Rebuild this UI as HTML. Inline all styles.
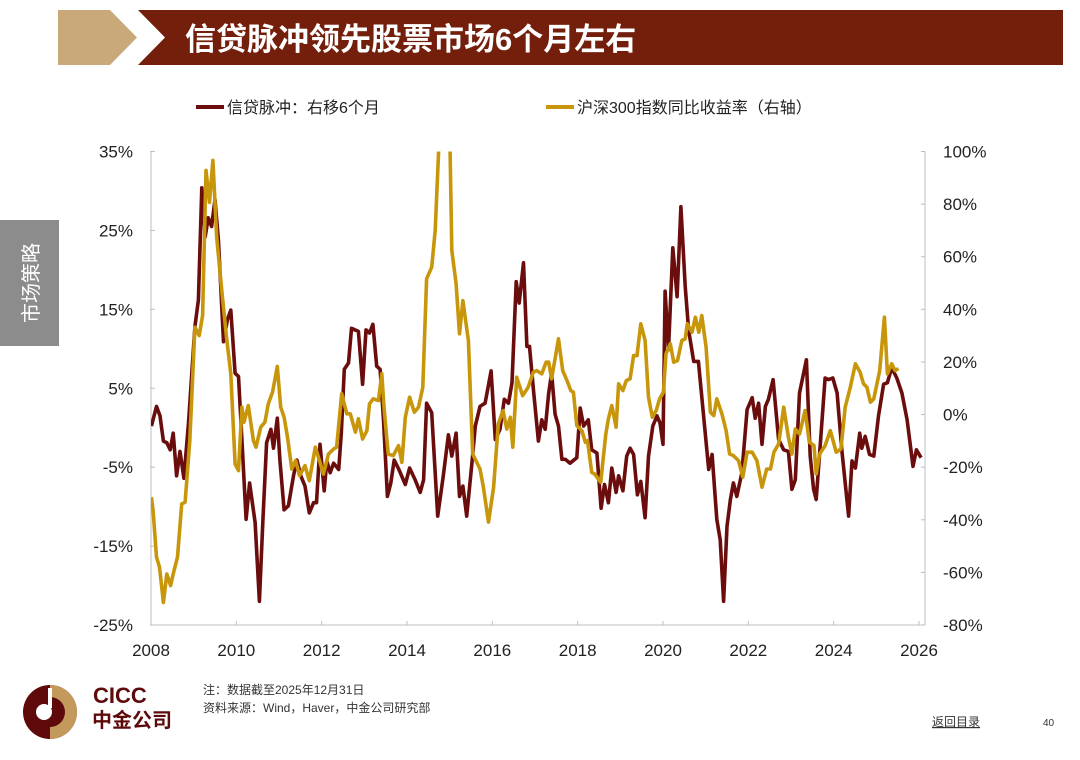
<!DOCTYPE html>
<html><head><meta charset="utf-8">
<style>
html,body{margin:0;padding:0;background:#fff;}
body{width:1080px;height:755px;position:relative;overflow:hidden;font-family:"Liberation Sans","Noto Sans CJK SC",sans-serif;}
svg text{font-family:"Liberation Sans","Noto Sans CJK SC",sans-serif;}
</style></head>
<body>
<svg width="1080" height="755" viewBox="0 0 1080 755" xmlns="http://www.w3.org/2000/svg">
  <g>
    <polygon points="58,10 110,10 137,37.5 110,65 58,65" fill="#c9a87a"/>
    <polygon points="138,10 1063,10 1063,65 138,65 165,37.5" fill="#731f0c"/>
    <text x="185" y="50" font-size="31" font-weight="bold" fill="#fff">信贷脉冲领先股票市场6个月左右</text>
  </g>
  <g>
    <rect x="0" y="220" width="59" height="126" fill="#8c8c8c"/>
    <text x="0" y="0" font-size="20" fill="#fff" transform="translate(38,283) rotate(-90)" text-anchor="middle">市场策略</text>
  </g>
  <g>
    <line x1="196" y1="107" x2="224" y2="107" stroke="#6b0d0d" stroke-width="4"/>
    <text x="227" y="113" font-size="16" fill="#222">信贷脉冲：右移6个月</text>
    <line x1="546" y1="107" x2="574" y2="107" stroke="#c8960a" stroke-width="4"/>
    <text x="577" y="113" font-size="16" fill="#222">沪深300指数同比收益率（右轴）</text>
  </g>
  <g id="axes"></g>
  <g id="plot"></g>
  <g>
    <g>
      <circle cx="50" cy="712" r="27" fill="#5e0a0a"/>
      <path d="M50,685 A27,27 0 0 1 50,739 L50,727 A15,15 0 0 0 50,697 Z" fill="#c49a5c"/>
      <circle cx="44" cy="712" r="8" fill="#fff"/>
      <rect x="48" y="688" width="4" height="20" fill="#fff"/>
      <text x="93" y="703" font-size="22" font-weight="bold" fill="#5e0a0a">CICC</text>
      <text x="92" y="727" font-size="20" font-weight="bold" fill="#5e0a0a">中金公司</text>
    </g>
    <text x="203" y="694" font-size="12" fill="#333">注：数据截至2025年12月31日</text>
    <text x="203" y="712" font-size="12" fill="#333">资料来源：Wind，Haver，中金公司研究部</text>
    <text x="932" y="726" font-size="12" fill="#333" text-decoration="underline">返回目录</text>
    <text x="1043" y="726" font-size="10" fill="#333">40</text>
  </g>
</svg>
<script>
const xTickLabels=[2008,2010,2012,2014,2016,2018,2020,2022,2024,2026];
const leftTicks=[35,25,15,5,-5,-15,-25];
const rightTicks=[100,80,60,40,20,0,-20,-40,-60,-80];
const creditDates=[2008.01,2008.13,2008.21,2008.29,2008.37,2008.45,2008.52,2008.60,2008.68,2008.77,2008.88,2009.03,2009.11,2009.19,2009.27,2009.34,2009.42,2009.50,2009.58,2009.70,2009.79,2009.87,2009.97,2010.05,2010.13,2010.23,2010.31,2010.44,2010.54,2010.62,2010.71,2010.81,2010.87,2010.96,2011.02,2011.12,2011.22,2011.34,2011.42,2011.51,2011.61,2011.71,2011.81,2011.88,2011.96,2012.06,2012.12,2012.20,2012.28,2012.40,2012.46,2012.53,2012.63,2012.70,2012.86,2012.96,2013.04,2013.12,2013.20,2013.29,2013.37,2013.45,2013.54,2013.62,2013.70,2013.81,2013.96,2014.06,2014.19,2014.31,2014.39,2014.46,2014.58,2014.72,2014.85,2014.97,2015.05,2015.15,2015.23,2015.31,2015.40,2015.52,2015.60,2015.71,2015.83,2015.97,2016.07,2016.18,2016.28,2016.38,2016.46,2016.56,2016.63,2016.73,2016.81,2016.87,2016.96,2017.08,2017.16,2017.24,2017.32,2017.39,2017.47,2017.55,2017.63,2017.71,2017.82,2017.98,2018.06,2018.14,2018.25,2018.33,2018.45,2018.55,2018.63,2018.72,2018.80,2018.90,2018.96,2019.06,2019.15,2019.23,2019.31,2019.40,2019.48,2019.58,2019.66,2019.76,2019.86,2019.93,2020.00,2020.05,2020.13,2020.23,2020.33,2020.42,2020.52,2020.60,2020.72,2020.83,2021.07,2021.15,2021.26,2021.34,2021.42,2021.50,2021.58,2021.65,2021.73,2021.85,2021.97,2022.09,2022.16,2022.24,2022.32,2022.40,2022.47,2022.58,2022.71,2022.83,2022.94,2023.02,2023.10,2023.20,2023.36,2023.45,2023.53,2023.59,2023.69,2023.80,2023.88,2023.98,2024.08,2024.19,2024.35,2024.43,2024.51,2024.61,2024.66,2024.74,2024.84,2024.94,2025.05,2025.17,2025.26,2025.36,2025.48,2025.60,2025.72,2025.86,2025.94,2026.05];
const creditValues=[0.2,2.7,1.5,-1.7,-1.9,-2.8,-0.7,-6.1,-3.0,-6.4,0.6,12.8,16.2,30.4,24.2,26.6,25.5,28.9,23.8,10.9,13.7,14.9,6.9,6.5,-1.5,-11.6,-7.0,-12.0,-22.0,-12.0,-1.9,-0.2,-2.6,1.2,-4.1,-10.4,-9.9,-6.1,-4.1,-6.1,-7.4,-10.8,-9.5,-9.5,-2.1,-8.0,-4.2,-5.7,-4.5,-5.3,-0.7,7.4,8.2,12.6,12.2,5.5,12.4,12.0,13.1,7.8,7.4,1.0,-8.7,-7.0,-4.1,-5.3,-7.2,-5.1,-6.6,-8.2,-6.6,3.1,1.9,-11.2,-6.1,-0.9,-3.6,-0.7,-8.7,-7.4,-11.2,-4.5,0.2,2.7,3.1,7.2,-1.5,-0.2,3.6,3.1,5.7,18.5,15.8,20.9,10.3,10.3,5.0,-1.7,1.0,-0.2,4.4,6.9,1.7,0.2,-4.0,-4.0,-4.5,-3.8,2.5,0.2,1.0,-2.8,-3.2,-10.2,-7.2,-9.5,-5.1,-8.2,-6.1,-8.0,-3.6,-2.6,-3.4,-8.5,-6.8,-11.4,-3.6,0.2,1.5,0.6,-2.1,17.3,9.9,22.8,16.6,28.0,17.9,12.4,8.4,8.4,-5.3,-3.4,-11.6,-14.2,-22.0,-12.5,-9.1,-7.0,-8.7,-5.7,2.3,3.8,1.2,3.1,-2.1,2.7,3.6,6.1,-1.5,-2.8,-3.0,-7.8,-6.6,4.4,8.6,-3.6,-7.8,-9.1,-1.9,6.3,6.1,6.3,4.4,-2.8,-11.2,-4.2,-5.1,-0.7,-2.6,-1.1,-3.4,-3.6,1.5,5.5,5.7,7.6,6.3,4.4,1.0,-4.9,-2.8,-3.8];
const csiDates=[2008.01,2008.05,2008.13,2008.20,2008.29,2008.37,2008.46,2008.52,2008.62,2008.72,2008.80,2008.91,2009.03,2009.13,2009.21,2009.29,2009.37,2009.45,2009.54,2009.66,2009.77,2009.87,2009.97,2010.05,2010.13,2010.18,2010.28,2010.40,2010.46,2010.57,2010.67,2010.75,2010.85,2010.96,2011.04,2011.12,2011.20,2011.30,2011.39,2011.48,2011.61,2011.71,2011.85,2011.96,2012.04,2012.16,2012.28,2012.35,2012.47,2012.59,2012.67,2012.79,2012.86,2012.96,2013.06,2013.12,2013.21,2013.33,2013.41,2013.46,2013.56,2013.68,2013.80,2013.88,2013.96,2014.06,2014.17,2014.27,2014.37,2014.46,2014.58,2014.66,2014.74,2014.87,2015.01,2015.05,2015.15,2015.23,2015.31,2015.44,2015.54,2015.71,2015.79,2015.91,2016.03,2016.14,2016.25,2016.34,2016.42,2016.48,2016.57,2016.71,2016.84,2016.96,2017.04,2017.16,2017.26,2017.32,2017.39,2017.55,2017.65,2017.75,2017.84,2017.90,2017.98,2018.10,2018.18,2018.23,2018.33,2018.40,2018.54,2018.66,2018.72,2018.80,2018.90,2018.96,2019.06,2019.14,2019.23,2019.31,2019.39,2019.48,2019.58,2019.66,2019.75,2019.84,2019.92,2020.01,2020.07,2020.17,2020.25,2020.34,2020.44,2020.52,2020.57,2020.68,2020.76,2020.84,2020.91,2021.01,2021.11,2021.19,2021.26,2021.38,2021.48,2021.56,2021.65,2021.77,2021.87,2021.97,2022.09,2022.20,2022.32,2022.43,2022.52,2022.60,2022.71,2022.83,2022.94,2023.02,2023.10,2023.20,2023.33,2023.43,2023.54,2023.59,2023.67,2023.80,2023.92,2024.06,2024.17,2024.27,2024.39,2024.51,2024.62,2024.70,2024.78,2024.86,2024.94,2025.08,2025.19,2025.26,2025.36,2025.44,2025.52];
const csiValues=[-31.4,-36.5,-54.2,-58.0,-71.4,-60.6,-65.0,-60.6,-54.2,-34.0,-33.3,-9.9,33.2,30.0,37.6,92.8,80.7,96.6,67.4,47.1,29.4,15.5,-18.8,-21.3,2.8,-2.9,3.4,-9.9,-12.4,-4.8,-2.9,4.1,8.6,18.3,2.8,-1.0,-8.6,-20.7,-17.5,-23.2,-19.4,-25.1,-12.4,-18.2,-22.6,-15.0,-13.1,-12.4,7.9,0.3,0.3,-6.7,-1.6,-9.3,-6.1,4.1,6.0,5.3,15.5,2.8,-15.0,-15.6,-11.8,-18.2,-1.0,6.6,0.9,2.8,10.4,51.6,56.0,70.0,100,140,100,62.4,49.7,30.7,43.3,28.1,-15.0,-20.7,-27.6,-40.9,-27.6,-3.5,1.5,-5.5,-1.0,-12.4,14.2,7.2,10.4,16.1,16.7,15.5,19.9,19.9,13.6,28.8,16.7,12.9,9.1,8.5,-4.2,-6.1,-10.5,-9.9,-22.0,-22.6,-25.7,-7.4,-1.6,3.4,-4.8,11.7,9.1,12.9,13.6,22.4,22.4,34.5,28.1,6.6,-1.0,1.5,6.0,8.5,23.1,26.9,19.9,20.5,28.1,28.8,34.5,31.3,37.0,31.3,37.6,25.6,0.9,-0.4,6.0,0.3,-6.1,-15.0,-15.6,-17.5,-23.8,-14.3,-14.3,-17.5,-27.6,-20.7,-20.7,-14.3,-11.2,2.8,-8.6,-15.0,-5.5,-7.4,1.5,-10.5,-11.8,-22.6,-15.0,-11.8,-6.1,-14.3,-13.1,2.8,10.4,19.3,16.1,11.7,10.4,4.7,6.0,16.7,37.0,15.5,19.3,16.7,17.5];

const X0=151,X1=919,Y0=151.5,Y1=625;
function xScale(yr){return X0+(yr-2008)/18*(X1-X0);}
function yLeft(v){return Y1-(v+25)/60*(Y1-Y0);}
function yRight(v){return Y1-(v+80)/180*(Y1-Y0);}
const NS="http://www.w3.org/2000/svg";
function mk(tag,attrs,parent){const e=document.createElementNS(NS,tag);for(const k in attrs)e.setAttribute(k,attrs[k]);parent.appendChild(e);return e;}
const axes=document.getElementById('axes');
const plot=document.getElementById('plot');
const gray="#bfbfbf";
const la=mk('line',{x1:X0,y1:Y0,x2:X0,y2:Y1,stroke:gray,'stroke-width':1},axes);


const ra=mk('line',{x1:925,y1:Y0,x2:925,y2:Y1,stroke:gray,'stroke-width':1},axes);


const xa=mk('line',{x1:X0,y1:Y1,x2:925,y2:Y1,stroke:gray,'stroke-width':1},axes);


leftTicks.forEach(v=>{
  const y=yLeft(v);
  mk('line',{x1:X0-1,y1:y,x2:X0+4,y2:y,stroke:gray},axes);
  const t=mk('text',{x:133,y:y+6,'font-size':17,'text-anchor':'end',fill:'#222'},axes);
  t.textContent=v+'%';
  
  
});
rightTicks.forEach(v=>{
  const y=yRight(v);
  mk('line',{x1:921,y1:y,x2:925,y2:y,stroke:gray},axes);
  const t=mk('text',{x:943,y:y+6,'font-size':17,fill:'#222'},axes);
  t.textContent=v+'%';
  
  
});
xTickLabels.forEach(v=>{
  const x=xScale(v);
  mk('line',{x1:x,y1:Y1-4,x2:x,y2:Y1,stroke:gray},axes);
  const t=mk('text',{x:x,y:656,'font-size':17,'text-anchor':'middle',fill:'#222'},axes);
  t.textContent=v;
  
  
});
mk('clipPath',{id:'clip'},plot).appendChild(document.createElementNS(NS,'rect'));
const cr=plot.querySelector('#clip rect');cr.setAttribute('x',X0);cr.setAttribute('y',Y0);cr.setAttribute('width',780);cr.setAttribute('height',Y1-Y0);
const cd=creditDates.map((d,i)=>xScale(d).toFixed(1)+','+yLeft(creditValues[i]).toFixed(1)).join(' ');
const l1=mk('polyline',{points:cd,fill:'none',stroke:'#6b0d0d','stroke-width':3.6,'stroke-linejoin':'round','clip-path':'url(#clip)'},plot);


const sd=csiDates.map((d,i)=>xScale(d).toFixed(1)+','+yRight(csiValues[i]).toFixed(1)).join(' ');
const l2=mk('polyline',{points:sd,fill:'none',stroke:'#c8960a','stroke-width':3.6,'stroke-linejoin':'round','clip-path':'url(#clip)'},plot);


</script>
</body></html>
